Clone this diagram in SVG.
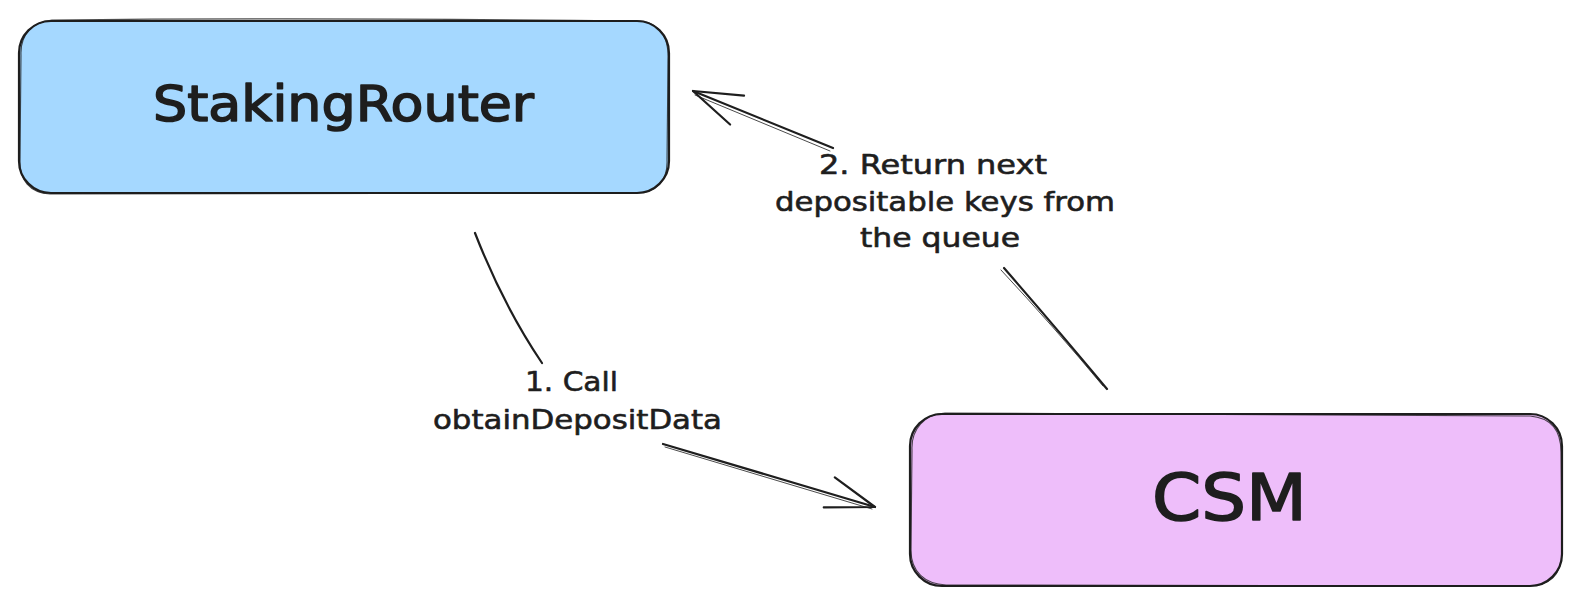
<svg xmlns="http://www.w3.org/2000/svg" width="1580" height="608" viewBox="0 0 1580 608">
<style>
.box{stroke:#1e1e1e;stroke-width:2.2;stroke-linejoin:round}
.box2{fill:none;stroke:#1e1e1e;stroke-width:1.1;opacity:0.8}
.title{font-family:"DejaVu Sans",sans-serif;fill:#1e1e1e;stroke:#1e1e1e;stroke-width:1.6;stroke-linejoin:round}
.lbl{font-family:"DejaVu Sans",sans-serif;font-size:27px;fill:#1e1e1e;stroke:#1e1e1e;stroke-width:0.6;stroke-linejoin:round}
.conn{fill:none;stroke:#1e1e1e;stroke-width:2.2;stroke-linecap:round}
.conn2{fill:none;stroke:#1e1e1e;stroke-width:1;stroke-linecap:round;opacity:0.8}
</style>
<defs>
<marker id="head" markerUnits="userSpaceOnUse" markerWidth="70" markerHeight="50" viewBox="-60 -25 70 50" refX="0" refY="0" orient="auto" overflow="visible">
<path d="M-47,-17 L0,0 L-49,15" fill="none" stroke="#1e1e1e" stroke-width="2.2" stroke-linecap="round" stroke-linejoin="round"/>
</marker>
</defs>
<rect width="1580" height="608" fill="#ffffff"/>
<g id="staking-router">
<rect class="box" x="19" y="21" width="650" height="172" rx="32" fill="#a5d8ff"/>
<path class="box2" d="M52,20 C250,18 460,19 640,21 C662,23 669,40 668,60 L667,160 C668,182 655,194 633,193 L50,194 C30,193 19,180 20,160 L21,55 C20,34 33,22 52,20 Z"/>
<text class="title" x="153" y="121" font-size="50" textLength="381" lengthAdjust="spacingAndGlyphs">StakingRouter</text>
</g>
<g id="csm">
<rect class="box" x="910" y="414" width="652" height="172" rx="32" fill="#eebefa"/>
<path class="box2" d="M945,413 C1150,415 1350,414 1530,416 C1553,418 1561,432 1561,452 L1562,553 C1561,576 1550,586 1526,586 L946,585 C925,584 911,572 911,550 L912,450 C911,429 925,414 945,413 Z"/>
<text class="title" x="1152" y="520" font-size="64" textLength="155" lengthAdjust="spacingAndGlyphs">CSM</text>
</g>
<g id="connectors">
<path class="conn" d="M475,233 Q503,305 542,363"/>
<path class="conn" d="M663,444 L875,507" marker-end="url(#head)"/>
<path class="conn2" d="M665,447 L872,509"/>
<path class="conn" d="M1107,389 Q1058,330 1004,268"/>
<path class="conn2" d="M1103,386 Q1055,328 1001,270"/>
<path class="conn" d="M833,148 L693,91" marker-end="url(#head)"/>
<path class="conn2" d="M830,151 L695,95"/>
</g>
<g id="labels">
<text class="lbl" x="525" y="391" textLength="93" lengthAdjust="spacingAndGlyphs">1. Call</text>
<text class="lbl" x="433" y="429" textLength="289" lengthAdjust="spacingAndGlyphs">obtainDepositData</text>
<text class="lbl" x="819" y="174" textLength="228" lengthAdjust="spacingAndGlyphs">2. Return next</text>
<text class="lbl" x="775" y="211" textLength="340" lengthAdjust="spacingAndGlyphs">depositable keys from</text>
<text class="lbl" x="860" y="247" textLength="160" lengthAdjust="spacingAndGlyphs">the queue</text>
</g>
</svg>
